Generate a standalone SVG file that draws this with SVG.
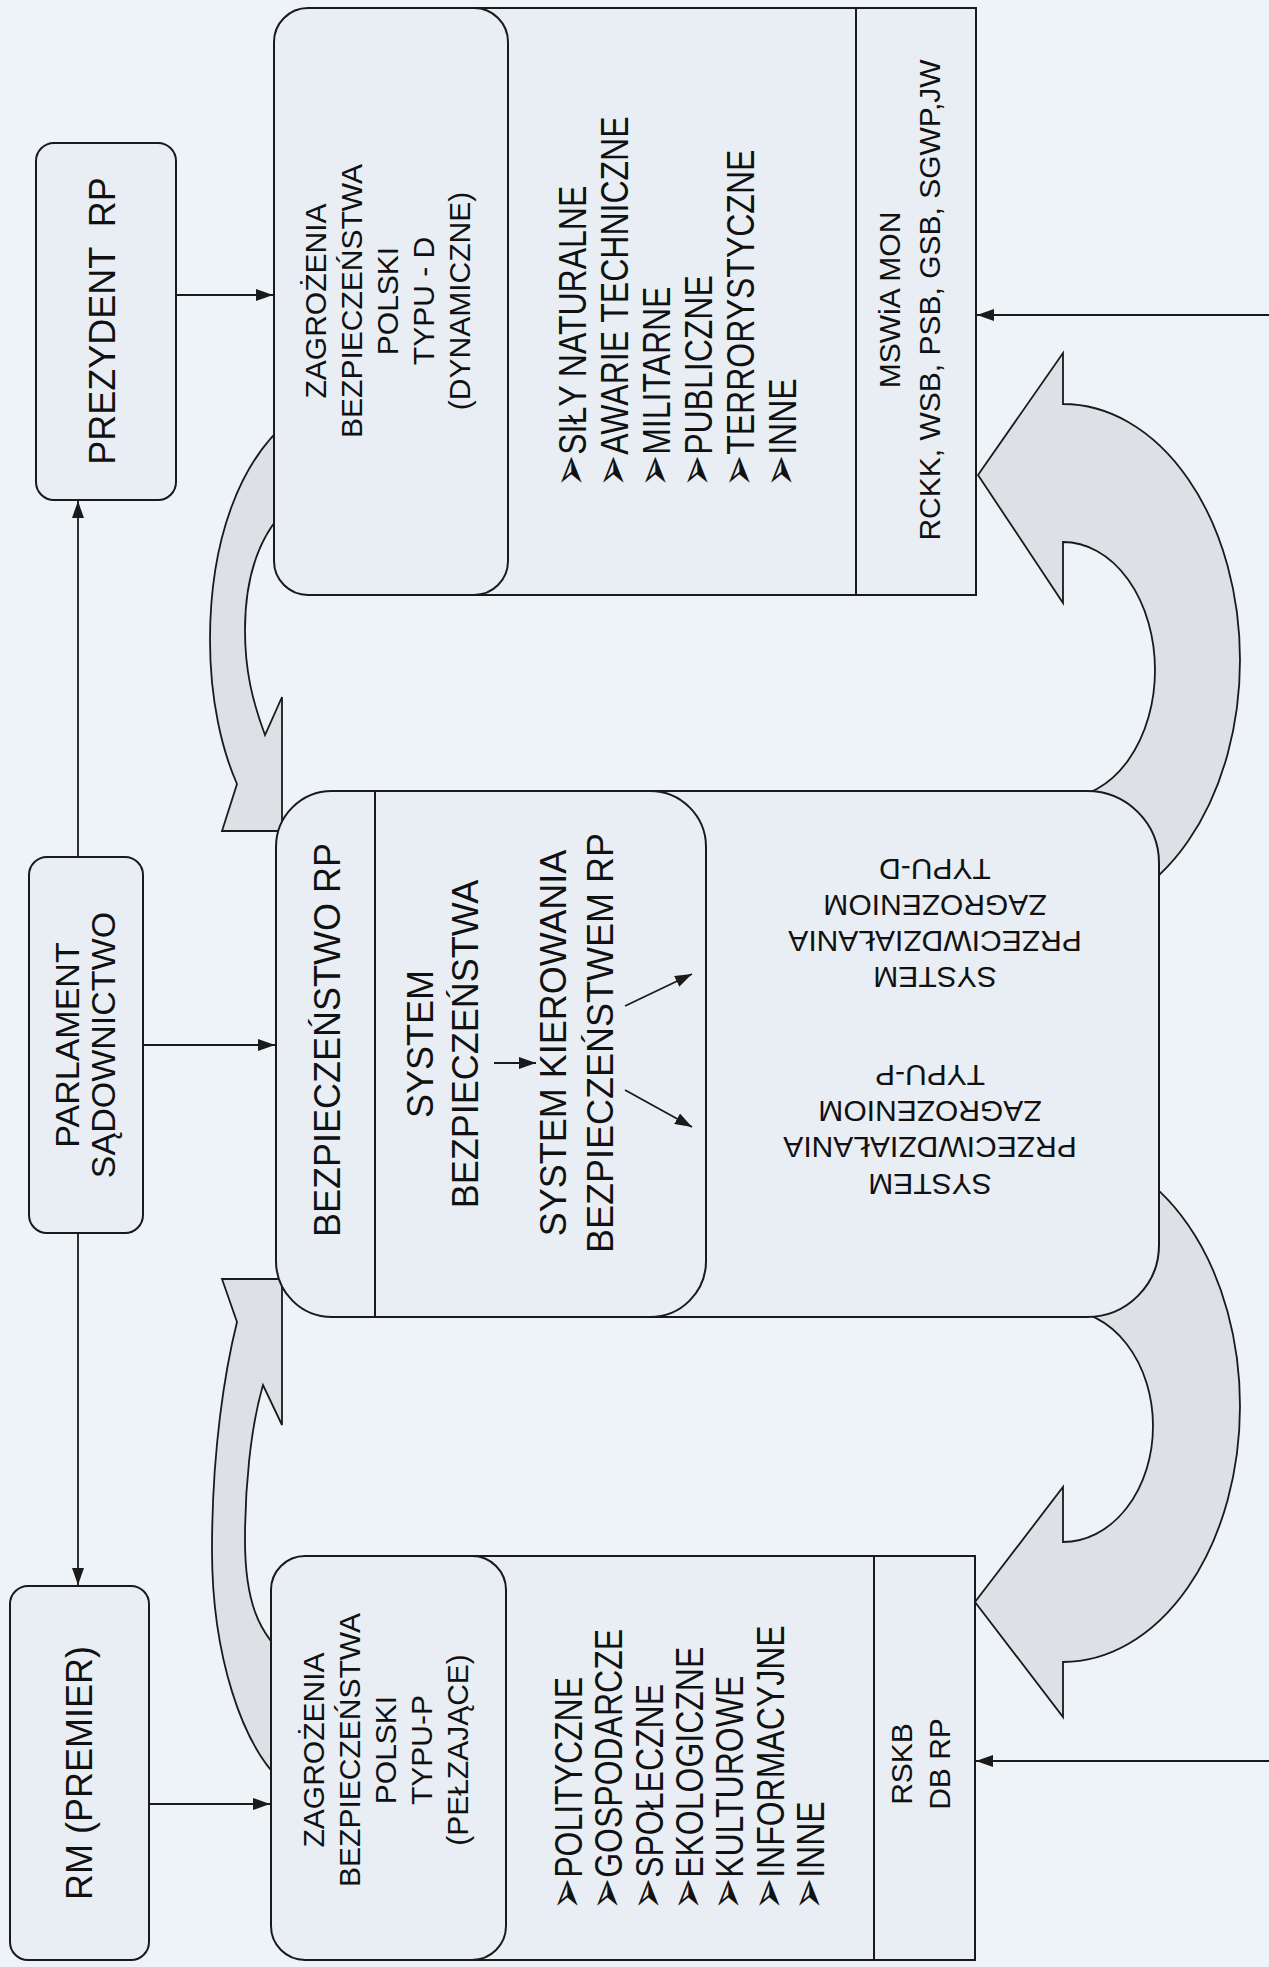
<svg xmlns="http://www.w3.org/2000/svg" width="1269" height="1967" viewBox="0 0 1269 1967">
<style>
text{font-family:"Liberation Sans",Arial,sans-serif;fill:#111;}
.m{text-anchor:middle;}
.s{text-anchor:start;}
.f30{font-size:30px;}
.f32{font-size:32px;}
.f34{font-size:34px;}
.f36{font-size:36px;}
.bul{font-family:"DejaVu Sans",sans-serif;font-size:1.2em;}
.box{fill:#e8eef4;stroke:#1a1a1a;stroke-width:2;}
.ln{stroke:#1a1a1a;stroke-width:1.8;fill:none;}
.blk{fill:#dde1e5;stroke:#1a1a1a;stroke-width:1.8;}
</style>
<defs>
<marker id="ah" markerUnits="userSpaceOnUse" markerWidth="17" markerHeight="12" refX="17" refY="6" viewBox="0 0 17 12" orient="auto">
<path d="M0 0 L17 6 L0 12 z" fill="#1a1a1a"/>
</marker>
</defs>
<rect x="0" y="0" width="1269" height="1967" fill="#eef3f8"/>

<g id="flow-arrows">
<path class="blk" d="M290 420 C240 460,210 540,210 640 C210 700,222 750,237 784 L222 831 L282 831 L282 697 L265 735 C252 700,245 670,245 630 C245 580,258 535,290 505 Z"/>
<path class="blk" d="M290 1789 C240 1750,212 1650,212 1550 C212 1450,225 1370,237 1322 L222 1279 L282 1279 L282 1425 L263 1385 C250 1430,245 1490,245 1540 C245 1600,258 1635,290 1660 Z"/>
<path class="blk" d="M1063 404 A177 256 0 0 1 1063 916 L1063 798 A92 128 0 0 0 1063 542 L1063 603 L978 475 L1063 353 Z"/>
<path class="blk" d="M1063 1662 A177 256 0 0 0 1063 1150 L1063 1310 A90 116 0 0 1 1063 1542 L1063 1487 L975 1602 L1063 1717 Z"/>
</g>

<g id="node-prezydent">
<rect class="box" x="36" y="143" width="140" height="357" rx="18"/>
<text class="m f36" transform="translate(102 321) rotate(-90)" dy="0.35em" word-spacing="10">PREZYDENT RP</text>
</g>

<g id="node-parlament">
<rect class="box" x="29" y="857" width="114" height="376" rx="18"/>
<text class="m f34" transform="translate(67 1045) rotate(-90)" dy="0.35em">PARLAMENT</text>
<text class="m f34" transform="translate(103 1045) rotate(-90)" dy="0.35em">SĄDOWNICTWO</text>
</g>

<g id="node-rm">
<rect class="box" x="10" y="1586" width="139" height="374" rx="18"/>
<text class="m f36" transform="translate(79 1773) rotate(-90)" dy="0.35em">RM (PREMIER)</text>
</g>

<g id="node-zagrozenia-d">
<rect class="box" x="470" y="8" width="506" height="587"/>
<line class="ln" x1="856" y1="8" x2="856" y2="595" style="stroke-width:2"/>
<rect class="box" x="274" y="8" width="234" height="587" rx="34"/>
<text class="m f30" transform="translate(315 301) rotate(-90)" dy="0.35em">ZAGROŻENIA</text>
<text class="m f30" transform="translate(351 301) rotate(-90)" dy="0.35em">BEZPIECZEŃSTWA</text>
<text class="m f30" transform="translate(387 301) rotate(-90)" dy="0.35em">POLSKI</text>
<text class="m f30" transform="translate(423 301) rotate(-90)" dy="0.35em">TYPU - D</text>
<text class="m f30" transform="translate(459 301) rotate(-90)" dy="0.35em">(DYNAMICZNE)</text>
<text class="s f32" transform="translate(572 487) rotate(-90) scale(1 1.22)" dy="0.35em"><tspan class="bul">➢</tspan>SIŁY NATURALNE</text>
<text class="s f32" transform="translate(614 487) rotate(-90) scale(1 1.22)" dy="0.35em"><tspan class="bul">➢</tspan>AWARIE TECHNICZNE</text>
<text class="s f32" transform="translate(656 487) rotate(-90) scale(1 1.22)" dy="0.35em"><tspan class="bul">➢</tspan>MILITARNE</text>
<text class="s f32" transform="translate(698 487) rotate(-90) scale(1 1.22)" dy="0.35em"><tspan class="bul">➢</tspan>PUBLICZNE</text>
<text class="s f32" transform="translate(740 487) rotate(-90) scale(1 1.22)" dy="0.35em"><tspan class="bul">➢</tspan>TERRORYSTYCZNE</text>
<text class="s f32" transform="translate(782 487) rotate(-90) scale(1 1.22)" dy="0.35em"><tspan class="bul">➢</tspan>INNE</text>
<text class="m f30" transform="translate(889 300) rotate(-90)" dy="0.35em">MSWiA MON</text>
<text class="m f30" transform="translate(929 300) rotate(-90)" dy="0.35em">RCKK, WSB, PSB, GSB, SGWP,JW</text>
</g>

<g id="node-bezpieczenstwo">
<rect class="box" x="276" y="791" width="883" height="526" rx="72"/>
<rect class="box" x="276" y="791" width="430" height="526" rx="56"/>
<line class="ln" x1="375" y1="791" x2="375" y2="1317" style="stroke-width:2"/>
<text class="m f36" transform="translate(327 1040) rotate(-90)" dy="0.35em">BEZPIECZEŃSTWO RP</text>
<text class="m f36" transform="translate(420 1044) rotate(-90)" dy="0.35em">SYSTEM</text>
<text class="m f36" transform="translate(465 1044) rotate(-90)" dy="0.35em">BEZPIECZEŃSTWA</text>
<text class="m f36" transform="translate(553 1043) rotate(-90)" dy="0.35em">SYSTEM KIEROWANIA</text>
<text class="m f36" transform="translate(600 1043) rotate(-90)" dy="0.35em">BEZPIECZEŃSTWEM RP</text>
<text class="m f30" transform="translate(935 977) rotate(180)" dy="0.35em">SYSTEM</text>
<text class="m f30" transform="translate(935 941) rotate(180)" dy="0.35em">PRZECIWDZIAŁANIA</text>
<text class="m f30" transform="translate(935 905) rotate(180)" dy="0.35em">ZAGROZENIOM</text>
<text class="m f30" transform="translate(935 869) rotate(180)" dy="0.35em">TYPU-D</text>
<text class="m f30" transform="translate(930 1184) rotate(180)" dy="0.35em">SYSTEM</text>
<text class="m f30" transform="translate(930 1147) rotate(180)" dy="0.35em">PRZECIWDZIAŁANIA</text>
<text class="m f30" transform="translate(930 1111) rotate(180)" dy="0.35em">ZAGROZENIOM</text>
<text class="m f30" transform="translate(930 1075) rotate(180)" dy="0.35em">TYPU-P</text>
</g>

<g id="node-zagrozenia-p">
<rect class="box" x="470" y="1556" width="505" height="404"/>
<line class="ln" x1="874" y1="1556" x2="874" y2="1960" style="stroke-width:2"/>
<rect class="box" x="271" y="1556" width="235" height="404" rx="34"/>
<text class="m f30" transform="translate(313 1750) rotate(-90)" dy="0.35em">ZAGROŻENIA</text>
<text class="m f30" transform="translate(349 1750) rotate(-90)" dy="0.35em">BEZPIECZEŃSTWA</text>
<text class="m f30" transform="translate(385 1750) rotate(-90)" dy="0.35em">POLSKI</text>
<text class="m f30" transform="translate(421 1750) rotate(-90)" dy="0.35em">TYPU-P</text>
<text class="m f30" transform="translate(457 1750) rotate(-90)" dy="0.35em">(PEŁZAJĄCE)</text>
<text class="s f32" transform="translate(568 1910) rotate(-90) scale(1 1.22)" dy="0.35em"><tspan class="bul">➢</tspan>POLITYCZNE</text>
<text class="s f32" transform="translate(608 1910) rotate(-90) scale(1 1.22)" dy="0.35em"><tspan class="bul">➢</tspan>GOSPODARCZE</text>
<text class="s f32" transform="translate(649 1910) rotate(-90) scale(1 1.22)" dy="0.35em"><tspan class="bul">➢</tspan>SPOŁECZNE</text>
<text class="s f32" transform="translate(689 1910) rotate(-90) scale(1 1.22)" dy="0.35em"><tspan class="bul">➢</tspan>EKOLOGICZNE</text>
<text class="s f32" transform="translate(729 1910) rotate(-90) scale(1 1.22)" dy="0.35em"><tspan class="bul">➢</tspan>KULTUROWE</text>
<text class="s f32" transform="translate(770 1910) rotate(-90) scale(1 1.22)" dy="0.35em"><tspan class="bul">➢</tspan>INFORMACYJNE</text>
<text class="s f32" transform="translate(810 1910) rotate(-90) scale(1 1.22)" dy="0.35em"><tspan class="bul">➢</tspan>INNE</text>
<text class="m f30" transform="translate(901 1764) rotate(-90)" dy="0.35em">RSKB</text>
<text class="m f30" transform="translate(939 1764) rotate(-90)" dy="0.35em">DB RP</text>
</g>

<g id="connectors">
<line class="ln" x1="78" y1="857" x2="78" y2="501" marker-end="url(#ah)"/>
<line class="ln" x1="78" y1="1233" x2="78" y2="1585" marker-end="url(#ah)"/>
<line class="ln" x1="176" y1="295" x2="273" y2="295" marker-end="url(#ah)"/>
<line class="ln" x1="143" y1="1045" x2="275" y2="1045" marker-end="url(#ah)"/>
<line class="ln" x1="149" y1="1804" x2="270" y2="1804" marker-end="url(#ah)"/>
<line class="ln" x1="1269" y1="315" x2="977" y2="315" marker-end="url(#ah)"/>
<line class="ln" x1="1269" y1="1761" x2="976" y2="1761" marker-end="url(#ah)"/>
<line class="ln" x1="494" y1="1063" x2="536" y2="1063" marker-end="url(#ah)"/>
<line class="ln" x1="625" y1="1006" x2="692" y2="974" marker-end="url(#ah)"/>
<line class="ln" x1="625" y1="1090" x2="692" y2="1127" marker-end="url(#ah)"/>
</g>
</svg>
